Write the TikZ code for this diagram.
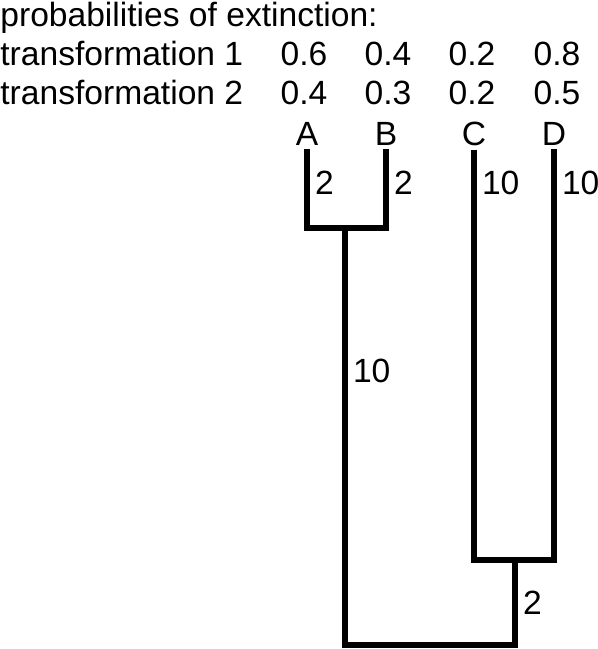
\documentclass[tikz,border=0pt]{standalone}
\usepackage{fontspec}
\setmainfont{Liberation Sans}

\begin{document}
\begin{tikzpicture}[x=.5pt,y=-.5pt,
    txt/.style={inner sep=0pt,font=\fontsize{16.8}{20}\selectfont},
    branch/.style={line width=3pt,line join=miter},
    len/.style={txt,anchor=west,xshift=2.5pt}]
\useasboundingbox (0,0) rectangle (598,649);
\node[txt,anchor=base west] (title) at (0,26) {probabilities of extinction:};
\node[txt,anchor=base west] (tr1) at (0,65) {transformation 1};
\node[txt,anchor=base west] (tr2) at (0,104) {transformation 2};
\node[txt,anchor=base] (pA1) at (304,65) {0.6};
\node[txt,anchor=base] (pB1) at (388,65) {0.4};
\node[txt,anchor=base] (pC1) at (472,65) {0.2};
\node[txt,anchor=base] (pD1) at (557,65) {0.8};
\node[txt,anchor=base] (pA2) at (304,104) {0.4};
\node[txt,anchor=base] (pB2) at (388,104) {0.3};
\node[txt,anchor=base] (pC2) at (472,104) {0.2};
\node[txt,anchor=base] (pD2) at (557,104) {0.5};
\node[txt,anchor=base] (A) at (307,145) {A};
\node[txt,anchor=base] (B) at (386,145) {B};
\node[txt,anchor=base] (C) at (474,145) {C};
\node[txt,anchor=base] (D) at (554,145) {D};
\coordinate (tA) at ([yshift=-2pt]A.south);
\coordinate (tB) at ([yshift=-2pt]B.south);
\coordinate (tC) at ([yshift=-2pt]C.south);
\coordinate (tD) at ([yshift=-2pt]D.south);
\coordinate (ab) at (345,228);
\coordinate (cd) at (515,560);
\coordinate (root) at (430,645);
\draw[branch] (tA) |- node[len,pos=.215] (lA) {2} (ab);
\draw[branch] (tB) |- node[len,pos=.215] (lB) {2} (ab);
\draw[branch] (tC) |- node[len,pos=.041] (lC) {10} (cd);
\draw[branch] (tD) |- node[len,pos=.041] (lD) {10} (cd);
\draw[branch] (ab) |- node[len,pos=.171] (lab) {10} (root);
\draw[branch] (cd) |- node[len,pos=.253] (lcd) {2} (root);
\end{tikzpicture}
\end{document}
